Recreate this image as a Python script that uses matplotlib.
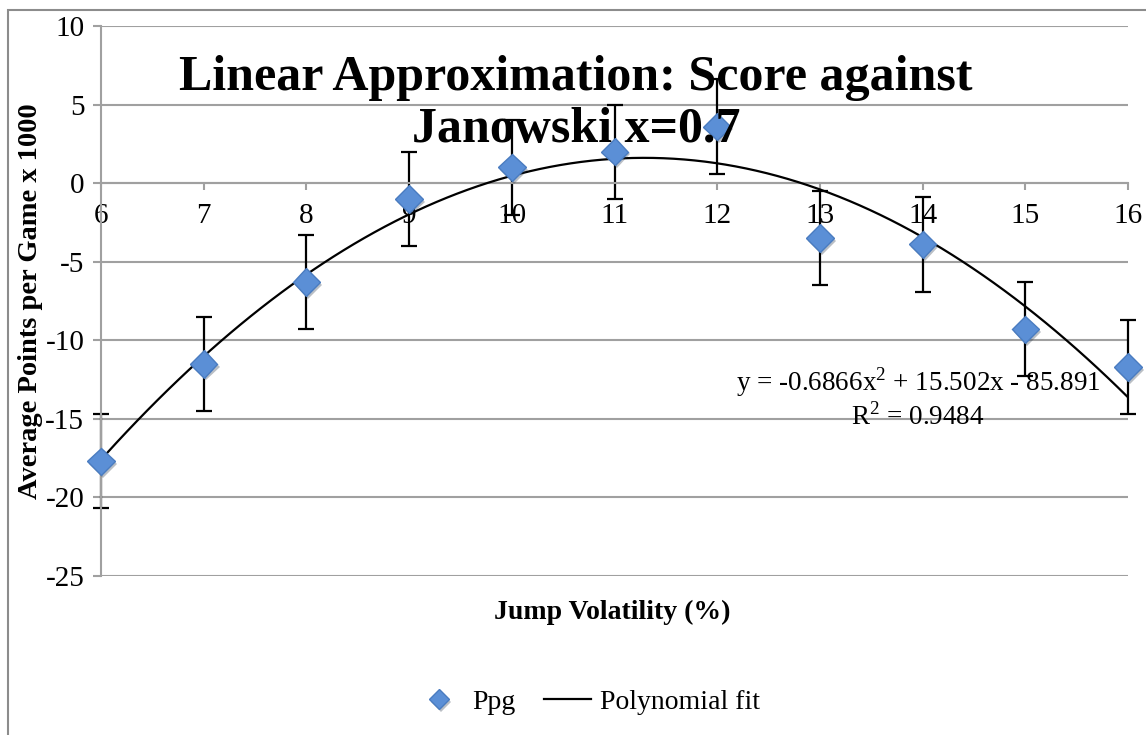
import numpy as np
import matplotlib
matplotlib.use("Agg")
from matplotlib import pyplot as plt
from matplotlib import patheffects as pe
from matplotlib.patches import Rectangle

volatility = [6, 7, 8, 9, 10, 11, 12, 13, 14, 15, 16]
ppg = [-17.7, -11.5, -6.3, -1.0, 1.0, 2.0, 3.6, -3.5, -3.9, -9.3, -11.7]
ppg_err = [3, 3, 3, 3, 3, 3, 3, 3, 3, 3, 3]
fit_coef = [-0.6866, 15.502, -85.891]

titulo = "Linear Approximation: Score against\nJanowski x=0.7"
eq_texto = "y = -0.6866x$^2$ + 15.502x - 85.891\nR$^2$ = 0.9484"

plt.rcParams['font.family'] = ['Liberation Serif', 'DejaVu Serif']
plt.rcParams['mathtext.fontset'] = 'custom'
plt.rcParams['mathtext.rm'] = 'Liberation Serif'
plt.rcParams['axes.unicode_minus'] = False

W, H = 1146, 735
fig = plt.figure(figsize=(W / 100, H / 100), dpi=100)
fig.patches.append(Rectangle((8 / W, -0.01), 1.2, 1 - 10 / H + 0.01, transform=fig.transFigure,
                             fill=False, edgecolor='#8c8c8c', linewidth=1.5))

ax = fig.add_axes([101 / W, 1 - 576 / H, (1128 - 101) / W, (576 - 26) / H])
grid_c = '#a0a0a0'

# curva de ajuste
xs = np.linspace(volatility[0], volatility[-1], 200)
ax.plot(xs, np.polyval(fit_coef, xs), color='black', linewidth=1.6, zorder=3, label='Polynomial fit')

# pontos com barras de erro
eb = ax.errorbar(volatility, ppg, yerr=ppg_err, fmt='none', ecolor='black', elinewidth=1.6,
                 capsize=6, capthick=1.6, zorder=2)
for art in eb.lines[1] + eb.lines[2]:
    art.set_clip_on(False)
pts, = ax.plot(volatility, ppg, linestyle='none', marker='D', markersize=14,
               markerfacecolor='#5b8fd6', markeredgecolor='#4a7cc0', markeredgewidth=1,
               zorder=4, label='Ppg', clip_on=False)
pts.set_path_effects([pe.SimplePatchShadow(offset=(1.5, -2), alpha=0.3), pe.Normal()])

ax.set_xlim(6, 16)
ax.set_ylim(-25, 10)
ax.set_yticks([10, 5, 0, -5, -10, -15, -20, -25])
ax.set_xticks(volatility)

ax.yaxis.grid(True, color=grid_c, linewidth=1.5)
ax.set_axisbelow(True)
for s in ['top', 'right']:
    ax.spines[s].set_visible(False)
ax.spines['bottom'].set_position(('data', 0))
ax.spines['bottom'].set_color(grid_c)
ax.spines['bottom'].set_linewidth(1.5)
ax.spines['left'].set_color(grid_c)
ax.spines['left'].set_linewidth(1.5)
ax.tick_params(axis='x', direction='out', length=5, width=1.5, color=grid_c, pad=9, labelsize=21)
ax.tick_params(axis='y', direction='out', length=6, width=1.5, color=grid_c, pad=6, labelsize=21)

ax.set_ylabel('Average Points per Game x 1000', fontsize=20.5, fontweight='bold', labelpad=2)

ax.text(576 / W, 1 - 104 / H, titulo, transform=fig.transFigure, ha='center', va='center',
        fontsize=36, fontweight='bold', linespacing=1.18, zorder=5)
ax.text(918 / W, 1 - 398 / H, eq_texto, transform=fig.transFigure, ha='center', va='center',
        fontsize=19.5, linespacing=1.15, zorder=5)
fig.text(612 / W, 1 - 612 / H, 'Jump Volatility (%)', ha='center', va='center',
         fontsize=20, fontweight='bold')

fig.legend(handles=[pts, ax.lines[0]], labels=['Ppg', 'Polynomial fit'], loc='center',
           bbox_to_anchor=(588 / W, 1 - 702 / H), ncol=2, frameon=False, fontsize=20,
           handlelength=1.7, handletextpad=0.35, columnspacing=1.0, markerscale=0.72)

fig.savefig('out.png', dpi=100)
